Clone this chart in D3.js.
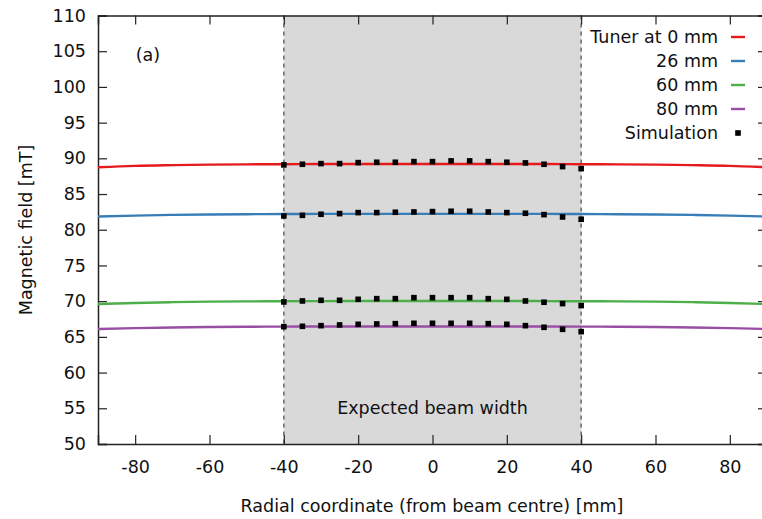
<!DOCTYPE html>
<html><head><meta charset="utf-8">
<script src="https://cdn.jsdelivr.net/npm/d3@7/dist/d3.min.js"></script>
<style>body{margin:0;background:#fff}svg{display:block}text{font-family:"DejaVu Sans",Verdana,sans-serif;fill:#111}</style>
</head><body><svg id="c" width="762" height="519"></svg>
<script>
const xTicks = [-80,-60,-40,-20,0,20,40,60,80];
const yTicks = [50,55,60,65,70,75,80,85,90,95,100,105,110];
const lineX = [-90,-80,-70,-60,-50,-40,-30,-20,-10,0,10,20,30,40,50,60,70,80,90];
const tuner0 = [88.75,88.95,89.05,89.12,89.16,89.18,89.2,89.2,89.2,89.2,89.2,89.2,89.2,89.18,89.16,89.12,89.05,88.95,88.75];
const tuner26 = [81.85,81.98,82.08,82.14,82.18,82.2,82.22,82.22,82.22,82.22,82.22,82.22,82.22,82.2,82.18,82.14,82.08,81.98,81.85];
const tuner60 = [69.6,69.75,69.86,69.93,69.97,69.99,70.01,70.02,70.02,70.02,70.02,70.02,70.01,69.99,69.97,69.93,69.86,69.75,69.6];
const tuner80 = [66.1,66.22,66.32,66.38,66.42,66.44,66.45,66.46,66.46,66.46,66.46,66.46,66.45,66.44,66.42,66.38,66.32,66.22,66.1];
const simX = [-40,-35,-30,-25,-20,-15,-10,-5,0,5,10,15,20,25,30,35,40];
const sim0 = [89.08,89.17,89.26,89.26,89.40,89.45,89.45,89.54,89.54,89.64,89.64,89.54,89.45,89.36,89.17,88.84,88.56];
const sim26 = [81.93,82.02,82.17,82.26,82.40,82.40,82.45,82.49,82.54,82.59,82.59,82.49,82.40,82.31,82.12,81.79,81.47];
const sim60 = [69.89,70.03,70.12,70.12,70.26,70.35,70.35,70.49,70.49,70.49,70.49,70.35,70.26,70.03,69.85,69.66,69.38];
const sim80 = [66.43,66.48,66.57,66.67,66.76,66.81,66.85,66.90,66.90,66.90,66.90,66.85,66.76,66.57,66.34,66.06,65.73];
const seriesNames = ["Tuner at 0 mm","26 mm","60 mm","80 mm"];
const colors = ["#e41a1c","#377eb8","#4daf4a","#984ea3"];
const beamRange = [-40,40];

const FS = 17.5;
const svg = d3.select("#c");
const L=98, R=767, T=15.5, B=444;
const x = d3.scaleLinear().domain([-90,90]).range([L,R]);
const y = d3.scaleLinear().domain([50,110]).range([B,T]);
const fmt = d => String(d);

// shaded beam region
svg.append("rect").attr("x",x(beamRange[0])).attr("y",T).attr("width",x(beamRange[1])-x(beamRange[0])).attr("height",B-T).attr("fill","#d9d9d9");
beamRange.forEach(v=>svg.append("line").attr("x1",x(v)).attr("x2",x(v)).attr("y1",T).attr("y2",B)
  .attr("stroke","#666").attr("stroke-width",1.5).attr("stroke-dasharray","4,4"));
svg.append("text").attr("x",x(0)).attr("y",y(55)+6).attr("text-anchor","middle").attr("font-size",FS).text("Expected beam width");

function styleAxis(g){
  g.select(".domain").attr("stroke","#222").attr("stroke-width",1.5);
  g.selectAll(".tick line").attr("stroke","#222").attr("stroke-width",1.2);
  g.selectAll("text").attr("font-size",FS).attr("font-family","DejaVu Sans").attr("fill","#111");
}
svg.append("g").attr("transform",`translate(0,${B})`).call(d3.axisBottom(x).tickValues(xTicks).tickSize(-9).tickPadding(17).tickFormat(fmt)).call(styleAxis);
svg.append("g").attr("transform",`translate(0,${T})`).call(d3.axisTop(x).tickValues(xTicks).tickSize(-9).tickFormat("")).call(styleAxis);
svg.append("g").attr("transform",`translate(${L},0)`).call(d3.axisLeft(y).tickValues(yTicks).tickSize(-9).tickPadding(12).tickFormat(fmt)).call(styleAxis);
svg.append("g").attr("transform",`translate(${R},0)`).call(d3.axisRight(y).tickValues(yTicks).tickSize(-9).tickFormat("")).call(styleAxis);

// lines
const lines=[tuner0,tuner26,tuner60,tuner80];
const lg = d3.line().x((d,i)=>x(lineX[i])).y(d=>y(d)).curve(d3.curveMonotoneX);
lines.forEach((s,k)=>svg.append("path").datum(s).attr("d",lg).attr("fill","none").attr("stroke",colors[k]).attr("stroke-width",2.4));

// simulation points
[sim0,sim26,sim60,sim80].forEach(s=>{
  svg.append("g").selectAll("rect").data(s).join("rect")
   .attr("x",(d,i)=>x(simX[i])-2.8).attr("y",d=>y(d)-2.8).attr("width",5.6).attr("height",5.6).attr("fill","#000");
});

// labels
svg.append("text").attr("x",148).attr("y",61).attr("text-anchor","middle").attr("font-size",FS).text("(a)");
svg.append("text").attr("x",432).attr("y",512).attr("text-anchor","middle").attr("font-size",FS).text("Radial coordinate (from beam centre) [mm]");
svg.append("text").attr("transform","translate(32,230) rotate(-90)").attr("text-anchor","middle").attr("font-size",FS).text("Magnetic field [mT]");

// legend
const legY=[37,61,85,109,133];
seriesNames.forEach((n,k)=>{
  svg.append("text").attr("x",718).attr("y",legY[k]+6).attr("text-anchor","end").attr("font-size",FS).text(n);
  svg.append("line").attr("x1",731).attr("x2",745).attr("y1",legY[k]).attr("y2",legY[k]).attr("stroke",colors[k]).attr("stroke-width",2.4);
});
svg.append("text").attr("x",718).attr("y",legY[4]+6).attr("text-anchor","end").attr("font-size",FS).text("Simulation");
svg.append("rect").attr("x",738-2.8).attr("y",legY[4]-2.8).attr("width",5.6).attr("height",5.6).attr("fill","#000");
</script></body></html>
